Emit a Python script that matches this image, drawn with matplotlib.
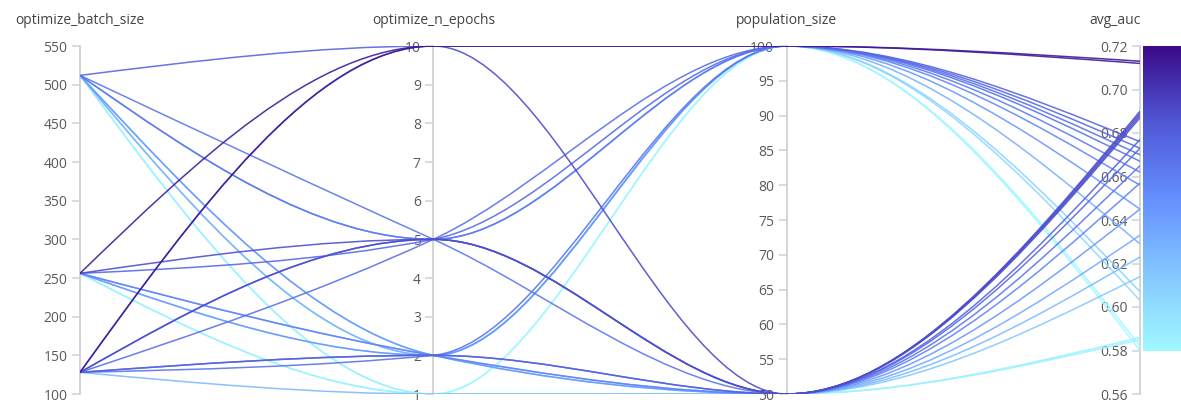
"""Parallel coordinates of sweep runs: batch size, epochs, population -> avg_auc."""
import numpy as np
import matplotlib; matplotlib.use("Agg")
import matplotlib.pyplot as plt
from matplotlib.path import Path
from matplotlib.patches import PathPatch
from matplotlib.colors import LinearSegmentedColormap, Normalize

plt.rcParams["font.family"] = ["Open Sans", "DejaVu Sans"]

# ── Run data ──────────────────────────────────────────────────────────
batch_size = [128, 256, 512, 256, 128, 512, 512, 128, 256, 512, 256, 512, 512, 256,
              128, 256, 128, 128, 128, 128, 512, 256, 512, 256, 128, 512, 512, 256]
n_epochs   = [10, 10, 10, 5, 5, 5, 5, 2, 2, 2, 2, 2, 1, 1,
              10, 5, 5, 5, 2, 2, 5, 2, 2, 2, 1, 2, 1, 1]
population = [100, 100, 100, 100, 100, 100, 100, 100, 100, 100, 100, 100, 100, 100,
              50, 50, 50, 50, 50, 50, 50, 50, 50, 50, 50, 50, 50, 50]
avg_auc    = [0.713, 0.712, 0.676, 0.673, 0.670, 0.662, 0.656, 0.667, 0.645, 0.629,
              0.607, 0.603, 0.582, 0.580,
              0.690, 0.689, 0.688, 0.687, 0.677, 0.673, 0.665, 0.657, 0.645, 0.633,
              0.623, 0.614, 0.586, 0.585]

names  = ["optimize_batch_size", "optimize_n_epochs", "population_size", "avg_auc"]
limits = [(100, 550), (1, 10), (50, 100), (0.56, 0.72)]
ticks  = [np.arange(100, 551, 50), np.arange(1, 11, 1), np.arange(50, 101, 5),
          np.arange(0.56, 0.7201, 0.02)]
tick_fmt = ["{:.0f}", "{:.0f}", "{:.0f}", "{:.2f}"]

cmap = LinearSegmentedColormap.from_list(
    "auc", ["#a0f9ff", "#84c8ff", "#658fff", "#5058d6", "#3b0a88"])
norm = Normalize(0.58, 0.72, clip=True)

W, H = 1181, 404
fig = plt.figure(figsize=(W / 100, H / 100), dpi=100)
fig.patch.set_facecolor("white")

left, right, top, bottom = 80, 1140, 46, 394
host = fig.add_axes([left / W, (H - bottom) / H, (right - left) / W, (bottom - top) / H])
host.set_xlim(0, 3)
host.set_ylim(0, 1)
host.axis("off")


def monotone_path(xs, ys):
    """Monotone cubic (d3 curveMonotoneX style) through the points as a Bezier path."""
    n = len(xs)
    h = np.diff(xs)
    s = np.diff(ys) / h
    t = np.zeros(n)
    for i in range(1, n - 1):
        p = (s[i - 1] * h[i] + s[i] * h[i - 1]) / (h[i - 1] + h[i])
        sg = (1 if s[i - 1] >= 0 else -1) + (1 if s[i] >= 0 else -1)
        t[i] = sg * min(abs(s[i - 1]), abs(s[i]), 0.5 * abs(p))
    t[0] = (3 * s[0] - t[1]) / 2
    t[-1] = (3 * s[-1] - t[-2]) / 2
    verts = [(xs[0], ys[0])]
    codes = [Path.MOVETO]
    for i in range(n - 1):
        dx = h[i] / 3
        verts += [(xs[i] + dx, ys[i] + dx * t[i]),
                  (xs[i + 1] - dx, ys[i + 1] - dx * t[i + 1]),
                  (xs[i + 1], ys[i + 1])]
        codes += [Path.CURVE4] * 3
    return Path(verts, codes)


columns = [batch_size, n_epochs, population, avg_auc]
order = np.argsort(avg_auc)
for k in order:
    ys = [(columns[j][k] - limits[j][0]) / (limits[j][1] - limits[j][0]) for j in range(4)]
    path = monotone_path(np.arange(4, dtype=float), np.array(ys))
    host.add_patch(PathPatch(path, facecolor="none", edgecolor=cmap(norm(avg_auc[k])),
                             lw=1.1, alpha=0.9, zorder=3))

# ── Vertical axes ─────────────────────────────────────────────────────
for j, name in enumerate(names):
    xpix = left + j * (right - left) / 3
    ax = fig.add_axes([xpix / W, (H - bottom) / H, 0.0001, (bottom - top) / H])
    ax.set_ylim(*limits[j])
    ax.set_yticks(ticks[j])
    ax.set_yticklabels([tick_fmt[j].format(v) for v in ticks[j]])
    ax.set_xticks([])
    for sp in ["top", "bottom", "right"]:
        ax.spines[sp].set_visible(False)
    ax.spines["left"].set_color("#d4d4d4")
    ax.spines["left"].set_linewidth(1.4)
    ax.tick_params(axis="y", length=6, width=1.2, color="#d4d4d4",
                   labelcolor="#5a5a5a", labelsize=10, pad=3)
    ax.patch.set_visible(False)
    ax.set_zorder(0)
    if j < 3:
        fig.text(xpix / W, 1 - 20 / H, name, ha="center", va="center",
                 fontsize=10, color="#444444")
    else:
        fig.text((xpix + 1) / W, 1 - 20 / H, name, ha="right", va="center",
                 fontsize=10, color="#444444")
host.set_zorder(2)

# ── Colour bar for avg_auc ────────────────────────────────────────────
cb_top, cb_bot = 46, 351
cax = fig.add_axes([1143 / W, (H - cb_bot) / H, 38 / W, (cb_bot - cb_top) / H])
grad = np.linspace(0.72, 0.58, 256).reshape(-1, 1)
cax.imshow(grad, aspect="auto", cmap=cmap, norm=norm, extent=[0, 1, 0.58, 0.72])
cax.set_xticks([]); cax.set_yticks([])
for sp in cax.spines.values():
    sp.set_visible(False)
cax.set_zorder(4)

fig.savefig("out.png", dpi=100, facecolor="white")
